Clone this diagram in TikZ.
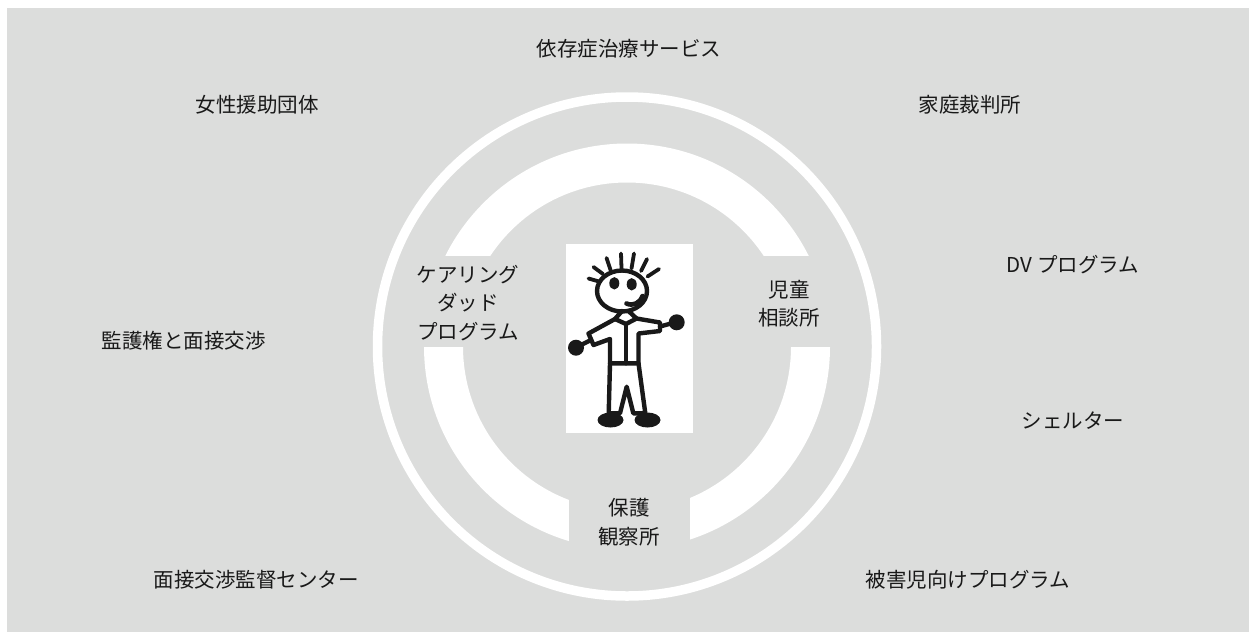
\documentclass[tikz,border=0pt]{standalone}
\usepackage{fontspec}
\newfontfamily\jpfont{Noto Sans CJK JP}
\definecolor{panel}{RGB}{220,221,220}
\definecolor{ink}{RGB}{25,25,25}

\begin{document}
\begin{tikzpicture}[x=1pt,y=-1pt,
  lbl/.style={font=\jpfont\fontsize{20.5}{28.5}\selectfont, text=ink, align=center, inner sep=0pt},
  gapbox/.style={fill=panel, draw=none},
  limb/.style={draw=ink, line width=4.4pt, line cap=round, line join=round},
  hair/.style={limb, line width=3.8pt},
  blob/.style={fill=ink}]
\useasboundingbox (0,0) rectangle (1249,632);
\fill[white] (0,0) rectangle (1249,632);
\fill[panel] (7,8) rectangle (1249,632);

% concentric rings round the child
\draw[white, line width=9.5pt] (627,346.5) circle[radius=249.5];
\draw[white, line width=39pt] (627,346.5) circle[radius=183.5];

% openings in the inner ring for its three labels
\fill[gapbox] (405,256) rectangle (560,347);
\fill[gapbox] (700,256) rectangle (848,347);
\fill[gapbox] (569,440) rectangle (690,575);

% child figure on a white card
\fill[white] (566,244) rectangle (693,433);
% hair
\draw[hair] (588.5,278.5) -- (599,281.5);
\draw[hair] (593.5,267) -- (603,274);
\draw[hair] (606.5,258) -- (610.5,270);
\draw[hair] (621,253.5) -- (621.5,268.5);
\draw[hair] (634,253.5) -- (631.5,268.5);
\draw[hair] (647,259) -- (641,271);
\draw[hair] (659,269) -- (647.5,276.5);
% head and face
\draw[limb] (622,291) ellipse[x radius=25, y radius=20.5];
\fill[blob] (614.3,283.3) ellipse[x radius=5, y radius=6.2];
\fill[blob] (631.7,284.3) ellipse[x radius=5, y radius=6.2];
\draw[limb, line width=4.6pt] (626.5,303.5) .. controls (633,306.5) and (640,303) .. (642.5,296);
% shirt
\draw[limb] (622,311) -- (615,319) -- (588.5,333.5) -- (593.5,345) -- (610,339)
  -- (610,363.3) -- (638.5,363.3) -- (638.5,333.5) -- (660,331) -- (660,322.5)
  -- (636.5,318.5) -- (629,311.5);
\draw[limb] (615,319) -- (626,324) -- (636.5,318.5);
\draw[limb] (626,324) -- (626,363.3);
% arms and hands
\draw[limb] (580,345.5) -- (591,340);
\fill[blob] (576,347.7) circle[radius=8];
\draw[limb] (660,326.5) -- (671,323.5);
\fill[blob] (676.7,322.3) circle[radius=8];
% trousers
\draw[limb] (610,363.3) -- (608.7,413.3) -- (620,413.3) -- (626.7,386.7)
  -- (633.3,413.3) -- (645.3,413.3) -- (638.5,363.3);
% shoes
\fill[blob] (610.5,420) ellipse[x radius=13, y radius=7.5];
\fill[blob] (647.5,420) ellipse[x radius=13, y radius=7.5];

% labels inside the inner ring
\node[lbl] (caring) at (468,303) {ケアリング\\ダッド\\プログラム};
\node[lbl] (jidou) at (789,303.5) {児童\\相談所};
\node[lbl] (hogo) at (629,522) {保護\\観察所};

% surrounding services
\node[lbl] (izon) at (629,49) {依存症治療サービス};
\node[lbl] (josei) at (257,105) {女性援助団体};
\node[lbl] (katei) at (970,105) {家庭裁判所};
\node[lbl] (dv) at (1073,265) {DV プログラム};
\node[lbl] (kango) at (183.5,341) {監護権と面接交渉};
\node[lbl] (shelter) at (1073,421) {シェルター};
\node[lbl] (mensetsu) at (256,580) {面接交渉監督センター};
\node[lbl] (higai) at (968,580) {被害児向けプログラム};
\end{tikzpicture}
\end{document}
